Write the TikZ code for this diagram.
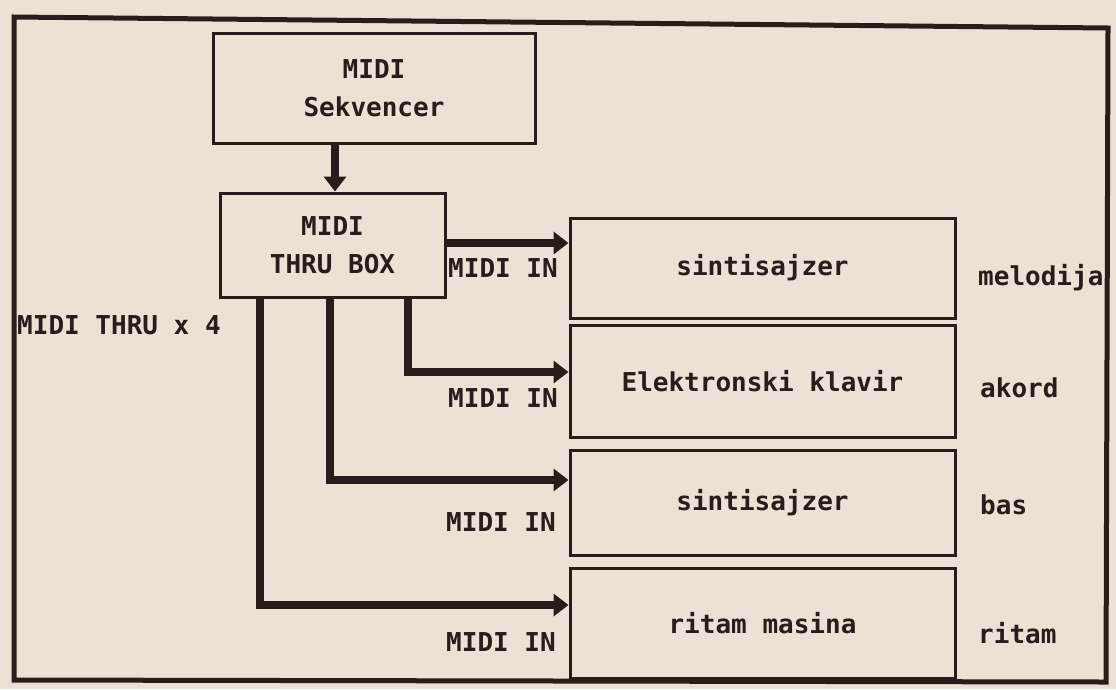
\documentclass[tikz,border=0pt]{standalone}
\usepackage{fontspec}
\setmonofont{DejaVu Sans Mono}
\usetikzlibrary{arrows.meta}
\definecolor{paper}{RGB}{233,226,213}
\definecolor{ink}{RGB}{38,30,26}
\begin{document}
\begin{tikzpicture}[x=1pt,y=-1pt,
  every node/.style={font=\ttfamily\bfseries\fontsize{26}{38}\selectfont, text=ink},
  box/.style={draw=ink, line width=3pt, rectangle, align=center, inner sep=0pt},
  arr/.style={draw=ink, line width=8pt, -{Triangle[length=15pt,width=22pt]}},
  lbl/.style={inner sep=0pt}]
\fill[paper] (0,0) rectangle (1116,689);
\useasboundingbox (0,0) rectangle (1116,689);
% outer frame
\draw[ink, line width=5pt, line join=miter] (14,17) -- (1108,28) -- (1106,682) -- (14,680) -- cycle;
% boxes
\node[box, minimum width=322pt, minimum height=110pt] (b1) at (374,88) {MIDI\\Sekvencer};
\node[box, minimum width=225pt, minimum height=104pt] (b2) at (332.5,245) {MIDI\\THRU BOX};
\node[box, minimum width=385pt, minimum height=100pt] (r1) at (762.5,268) {sintisajzer};
\node[box, minimum width=385pt, minimum height=112pt] (r2) at (762.5,381) {Elektronski klavir};
\node[box, minimum width=385pt, minimum height=105pt] (r3) at (762.5,502.5) {sintisajzer};
\node[box, minimum width=385pt, minimum height=110pt] (r4) at (762.5,623) {ritam masina};
% helper coordinates
\coordinate (x1) at (335,0);
\coordinate (x2) at (408,0);
\coordinate (x3) at (330,0);
\coordinate (x4) at (260,0);
\coordinate (y1) at (0,243);
\coordinate (y2) at (0,372);
\coordinate (y3) at (0,480);
\coordinate (y4) at (0,605);
% connectors
\draw[arr] (b1.south -| x1) -- (b2.north -| x1);
\draw[arr] (b2.east |- y1) -- (r1.west |- y1);
\draw[arr] (b2.south -| x2) |- (r2.west |- y2);
\draw[arr] (b2.south -| x3) |- (r3.west |- y3);
\draw[arr] (b2.south -| x4) |- (r4.west |- y4);
% labels
\node[lbl, anchor=east] (m1) at (558,268) {MIDI IN};
\node[lbl, anchor=east] (m2) at (558,398) {MIDI IN};
\node[lbl, anchor=east] (m3) at (556,522) {MIDI IN};
\node[lbl, anchor=east] (m4) at (556,642) {MIDI IN};
\node[lbl, anchor=west] (thru) at (17,325) {MIDI THRU x 4};
\node[lbl, anchor=west] (s1) at (978,278) {melodija};
\node[lbl, anchor=west] (s2) at (980,388) {akord};
\node[lbl, anchor=west] (s3) at (980,505) {bas};
\node[lbl, anchor=west] (s4) at (978,633) {ritam};
\end{tikzpicture}
\end{document}
